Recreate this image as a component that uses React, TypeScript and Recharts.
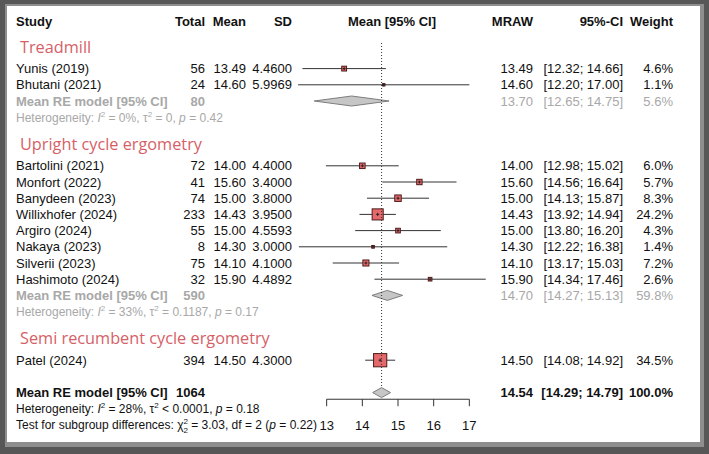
import React from "react";
import { ComposedChart, XAxis, YAxis, ReferenceLine } from "recharts";

// subgroups and their studies
const groupNames = ["Treadmill", "Upright cycle ergometry", "Semi recumbent cycle ergometry"];
const studyNames = [
  "Yunis (2019)",
  "Bhutani (2021)",
  "Bartolini (2021)",
  "Monfort (2022)",
  "Banydeen (2023)",
  "Willixhofer (2024)",
  "Argiro (2024)",
  "Nakaya (2023)",
  "Silverii (2023)",
  "Hashimoto (2024)",
  "Patel (2024)",
];
const studyGroup = [0, 0, 1, 1, 1, 1, 1, 1, 1, 1, 2];
const studyTotal = [56, 24, 72, 41, 74, 233, 55, 8, 75, 32, 394];
const studyMean = [13.49, 14.6, 14.0, 15.6, 15.0, 14.43, 15.0, 14.3, 14.1, 15.9, 14.5];
const studySd = [4.46, 5.9969, 4.4, 3.4, 3.8, 3.95, 4.5593, 3.0, 4.1, 4.4892, 4.3];
const studyLower = [12.32, 12.2, 12.98, 14.56, 14.13, 13.92, 13.8, 12.22, 13.17, 14.34, 14.08];
const studyUpper = [14.66, 17.0, 15.02, 16.64, 15.87, 14.94, 16.2, 16.38, 15.03, 17.46, 14.92];
const studyWeight = [4.6, 1.1, 6.0, 5.7, 8.3, 24.2, 4.3, 1.4, 7.2, 2.6, 34.5];

// random-effects summaries per subgroup (single-study groups have none)
const groupTotal = [80, 590, null];
const groupMean = [13.7, 14.7, null];
const groupLower = [12.65, 14.27, null];
const groupUpper = [14.75, 15.13, null];
const groupWeight = [5.6, 59.8, null];
const groupI2 = ["0", "33", null];
const groupTau2 = ["= 0", "= 0.1187", null];
const groupP = ["0.42", "0.17", null];

// overall model
const overallTotal = 1064;
const overallMean = 14.54;
const overallLower = 14.29;
const overallUpper = 14.79;
const overallWeight = 100.0;
const overallI2 = "28";
const overallTau2 = "< 0.0001";
const overallP = "0.18";
const subgroupChi2 = "3.03";
const subgroupDf = "2";
const subgroupP = "0.22";

const axisTicks = [13, 14, 15, 16, 17];

const FONT = "'Liberation Sans', Arial, sans-serif";
const HEAD_FONT = "'Open Sans', sans-serif";
const RED = "#d65f67";
const GREY = "#a8a8a8";
const INK = "#111";
const COL = { name: 16, total: 205, mean: 246, sd: 292, mraw: 533, ci: 623, weight: 673, plot: 392 };

const fmt = (v: number, d = 2) => v.toFixed(d);
const ciText = (lo: number, hi: number) => `[${fmt(lo)}; ${fmt(hi)}]`;

type Cell = { x: number; text: React.ReactNode; anchor?: "start" | "end" | "middle"; bold?: boolean; color?: string; size?: number; family?: string };

function TextRow(props: any) {
  const cells: Cell[] = props.cells;
  const y = props.y1;
  return (
    <g>
      {cells.map((c, i) => {
        const size = c.size ?? 13;
        return (
          <text
            key={i}
            x={c.x}
            y={y + size * 0.36}
            textAnchor={c.anchor ?? "end"}
            fontSize={size}
            fontWeight={c.bold ? "bold" : "normal"}
            fill={c.color ?? INK}
            fontFamily={c.family ?? FONT}
          >
            {c.text}
          </text>
        );
      })}
    </g>
  );
}

function StudyMark(props: any) {
  const { x1, x2, y1, mean, lower, upper, weight } = props;
  const cx = x1 + ((mean - lower) / (upper - lower)) * (x2 - x1);
  const side = 2.25 * Math.sqrt(weight);
  return (
    <g>
      <line x1={x1} x2={x2} y1={y1} y2={y1} stroke="#333" strokeWidth={1} />
      <rect x={cx - side / 2} y={y1 - side / 2} width={side} height={side} fill="#e5686b" stroke="#4d1a1a" strokeWidth={1} />
      <line x1={cx} x2={cx} y1={y1 - 1.5} y2={y1 + 1.5} stroke="#222" strokeWidth={1} />
      <line x1={cx - 1.5} x2={cx + 1.5} y1={y1} y2={y1} stroke="#222" strokeWidth={1} />
    </g>
  );
}

function Diamond(props: any) {
  const { x1, x2, y1, mean, lower, upper } = props;
  const cx = x1 + ((mean - lower) / (upper - lower)) * (x2 - x1);
  const h = 5;
  return (
    <polygon
      points={`${x1},${y1} ${cx},${y1 - h} ${x2},${y1} ${cx},${y1 + h}`}
      fill="#c6c6c6"
      stroke="#7d7d7d"
      strokeWidth={1}
    />
  );
}

function hetText(i2: string, tau2: string, p: string) {
  return (
    <>
      {"Heterogeneity: "}
      <tspan fontStyle="italic">I</tspan>
      <tspan dy={-5} fontSize={8}>2</tspan>
      <tspan dy={5}>{` = ${i2}%, \u03c4`}</tspan>
      <tspan dy={-5} fontSize={8}>2</tspan>
      <tspan dy={5}>{` ${tau2}, `}</tspan>
      <tspan fontStyle="italic">p</tspan>
      <tspan>{` = ${p}`}</tspan>
    </>
  );
}

function testText() {
  return (
    <>
      {"Test for subgroup differences: \u03c7"}
      <tspan dy={-5} fontSize={8}>2</tspan>
      <tspan dx={-4.5} dy={9} fontSize={8}>2</tspan>
      <tspan dy={-4}>{` = ${subgroupChi2}, df = ${subgroupDf} (`}</tspan>
      <tspan fontStyle="italic">p</tspan>
      <tspan>{` = ${subgroupP})`}</tspan>
    </>
  );
}

export default function App() {
  const els: React.ReactNode[] = [];
  let k = 0;
  const textRow = (r: number, cells: Cell[]) => {
    els.push(
      <ReferenceLine
        key={`t${k++}`}
        segment={[{ x: 13, y: r }, { x: 17, y: r }]}
        ifOverflow="visible"
        shape={(p: any) => <TextRow {...p} cells={cells} />}
      />
    );
  };

  // column header
  textRow(0.1, [
    { x: COL.name, text: "Study", anchor: "start", bold: true },
    { x: COL.total, text: "Total", bold: true },
    { x: COL.mean, text: "Mean", bold: true },
    { x: COL.sd, text: "SD", bold: true },
    { x: COL.plot, text: "Mean [95% CI]", anchor: "middle", bold: true },
    { x: COL.mraw, text: "MRAW", bold: true },
    { x: COL.ci, text: "95%-CI", bold: true },
    { x: COL.weight, text: "Weight", bold: true },
  ]);

  const marks: React.ReactNode[] = [];
  let cursor = 0;
  groupNames.forEach((g, gi) => {
    textRow(cursor + 1.65, [{ x: 20, text: g, anchor: "start", color: RED, size: 16.3, family: HEAD_FONT }]);
    let r = cursor + 3;
    studyNames.forEach((name, si) => {
      if (studyGroup[si] !== gi) return;
      textRow(r, [
        { x: COL.name, text: name, anchor: "start" },
        { x: COL.total, text: String(studyTotal[si]) },
        { x: COL.mean, text: fmt(studyMean[si]) },
        { x: COL.sd, text: fmt(studySd[si], 4) },
        { x: COL.mraw, text: fmt(studyMean[si]) },
        { x: COL.ci, text: ciText(studyLower[si], studyUpper[si]) },
        { x: COL.weight, text: `${fmt(studyWeight[si], 1)}%` },
      ]);
      marks.push(
        <ReferenceLine
          key={`s${si}`}
          segment={[{ x: studyLower[si], y: r }, { x: studyUpper[si], y: r }]}
          ifOverflow="visible"
          shape={(p: any) => (
            <StudyMark {...p} mean={studyMean[si]} lower={studyLower[si]} upper={studyUpper[si]} weight={studyWeight[si]} />
          )}
        />
      );
      r += 1;
    });
    cursor = r - 1;
    const m = groupMean[gi];
    if (m != null) {
      const lo = groupLower[gi] as number;
      const hi = groupUpper[gi] as number;
      textRow(r, [
        { x: COL.name, text: "Mean RE model [95% CI]", anchor: "start", bold: true, color: GREY },
        { x: COL.total, text: String(groupTotal[gi]), bold: true, color: GREY },
        { x: COL.mraw, text: fmt(m), color: GREY },
        { x: COL.ci, text: ciText(lo, hi), color: GREY },
        { x: COL.weight, text: `${fmt(groupWeight[gi] as number, 1)}%`, color: GREY },
      ]);
      marks.push(
        <ReferenceLine
          key={`d${gi}`}
          segment={[{ x: lo, y: r }, { x: hi, y: r }]}
          ifOverflow="visible"
          shape={(p: any) => <Diamond {...p} mean={m} lower={lo} upper={hi} />}
        />
      );
      textRow(r + 1, [
        { x: COL.name, text: hetText(groupI2[gi] as string, groupTau2[gi] as string, groupP[gi] as string), anchor: "start", color: GREY, size: 12 },
      ]);
      cursor = r + 1;
    }
  });

  const overallRow = cursor + 2;
  const axisRow = overallRow + 0.41;
  textRow(overallRow, [
    { x: COL.name, text: "Mean RE model [95% CI]", anchor: "start", bold: true },
    { x: COL.total, text: String(overallTotal), bold: true },
    { x: COL.mraw, text: fmt(overallMean), bold: true },
    { x: COL.ci, text: ciText(overallLower, overallUpper), bold: true },
    { x: COL.weight, text: `${fmt(overallWeight, 1)}%`, bold: true },
  ]);
  textRow(overallRow + 1, [{ x: COL.name, text: hetText(overallI2, overallTau2, overallP), anchor: "start", size: 12 }]);
  textRow(overallRow + 2, [{ x: COL.name, text: testText(), anchor: "start", size: 12 }]);

  return (
    <div style={{ position: "absolute", left: 0, top: 0, width: 709, height: 454, background: "#575757" }}>
      <div style={{ position: "absolute", left: 5, top: 4, width: 699, height: 443, background: "#8e8e8e" }} />
      <div style={{ position: "absolute", left: 7, top: 6, width: 693, height: 436, background: "#ffffff" }} />
      <div style={{ position: "absolute", left: 0, top: 0 }}>
        <ComposedChart width={709} height={454} data={[]} margin={{ top: 20, right: 204, bottom: 29, left: 291 }}>
          <XAxis type="number" dataKey="x" domain={[12, 18]} allowDataOverflow hide />
          <YAxis type="number" dataKey="y" domain={[0, 25]} reversed allowDataOverflow hide />
          {els}
          {marks}
          <ReferenceLine
            segment={[{ x: overallMean, y: 1.42 }, { x: overallMean, y: overallRow - 0.33 }]}
            ifOverflow="visible"
            stroke="#333"
            strokeDasharray="1 2"
          />
          <ReferenceLine
            key="od"
            segment={[{ x: overallLower, y: overallRow }, { x: overallUpper, y: overallRow }]}
            ifOverflow="visible"
            shape={(p: any) => <Diamond {...p} mean={overallMean} lower={overallLower} upper={overallUpper} />}
          />
          <ReferenceLine
            segment={[{ x: axisTicks[0], y: axisRow }, { x: axisTicks[axisTicks.length - 1], y: axisRow }]}
            ifOverflow="visible"
            stroke="#333"
          />
          {axisTicks.map((t) => (
            <ReferenceLine
              key={`tk${t}`}
              segment={[{ x: t, y: axisRow }, { x: t, y: axisRow + 0.43 }]}
              ifOverflow="visible"
              stroke="#333"
            />
          ))}
          {axisTicks.map((t) => (
            <ReferenceLine
              key={`tl${t}`}
              segment={[{ x: t, y: overallRow + 2 }, { x: t, y: overallRow + 2 }]}
              ifOverflow="visible"
              shape={(p: any) => <TextRow {...p} cells={[{ x: p.x1, text: String(t), anchor: "middle" }]} />}
            />
          ))}
        </ComposedChart>
      </div>
    </div>
  );
}
